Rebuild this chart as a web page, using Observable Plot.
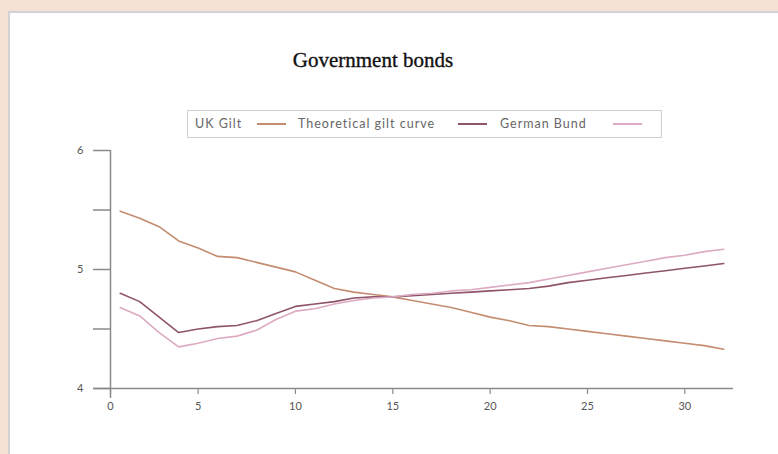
<!DOCTYPE html>
<html>
<head>
<meta charset="utf-8">
<script src="https://cdn.jsdelivr.net/npm/d3@7"></script>
<script src="https://cdn.jsdelivr.net/npm/@observablehq/plot@0.6"></script>
<style>
  html, body { margin: 0; padding: 0; }
  body { width: 778px; height: 454px; background: #f5e1d6; position: relative; overflow: hidden; }
  #panel { position: absolute; left: 8px; top: 11px; width: 770px; height: 443px; background: #fff;
           border-top: 2px solid #d2d2d2; border-left: 2px solid #d2d2d2; box-sizing: border-box; }
  #title { position: absolute; left: 0; width: 746px; top: 48px; text-align: center;
           font-family: "Liberation Serif", serif; font-size: 21px; color: #111; -webkit-text-stroke: 0.35px #111; }
  #legend { position: absolute; left: 187px; top: 110px; width: 475px; height: 28px; box-sizing: border-box;
            border: 1px solid #cfcfcf; font-family: Lato, sans-serif; font-size: 12.5px; color: #666; letter-spacing: 1px; }
  #legend span.t { position: absolute; top: 5px; white-space: nowrap; }
  #legend span.s { position: absolute; top: 12px; height: 2px; width: 29px; }
  #chart { position: absolute; left: 0; top: 140px; }
</style>
</head>
<body>
<div id="panel"></div>
<div id="title">Government bonds</div>
<div id="legend"></div>
<div id="chart"></div>
<script>
// Data
const maturity = [1,2,3,4,5,6,7,8,9,10,11,12,13,14,15,16,17,18,19,20,21,22,23,24,25,26,27,28,29,30,31,32];
const ukGilt = [5.49,5.43,5.36,5.24,5.18,5.11,5.10,5.06,5.02,4.98,4.91,4.84,4.81,4.79,4.77,4.74,4.71,4.68,4.64,4.60,4.57,4.53,4.52,4.50,4.48,4.46,4.44,4.42,4.40,4.38,4.36,4.33];
const theoreticalGilt = [4.80,4.73,4.60,4.47,4.50,4.52,4.53,4.57,4.63,4.69,4.71,4.73,4.76,4.77,4.77,4.78,4.79,4.80,4.81,4.82,4.83,4.84,4.86,4.89,4.91,4.93,4.95,4.97,4.99,5.01,5.03,5.05];
const germanBund = [4.68,4.61,4.47,4.35,4.38,4.42,4.44,4.49,4.58,4.65,4.67,4.71,4.74,4.76,4.77,4.79,4.80,4.82,4.83,4.85,4.87,4.89,4.92,4.95,4.98,5.01,5.04,5.07,5.10,5.12,5.15,5.17];

const seriesNames = ["UK Gilt", "Theoretical gilt curve", "German Bund"];
const seriesColors = ["#c48c70", "#8e5468", "#dcaac2"];

const xTickValues = [0.5, 5, 10, 15, 20, 25, 30];
const xTickLabels = ["0", "5", "10", "15", "20", "25", "30"];
const yTickValues = [4, 4.5, 5, 5.5, 6];
const yTickLabels = ["4", "", "5", "", "6"];

const seriesValues = [ukGilt, theoreticalGilt, germanBund];
const rows = [];
seriesNames.forEach((name, i) => {
  maturity.forEach((m, j) => rows.push({series: name, maturity: m, yield: seriesValues[i][j]}));
});

// Legend
const legend = document.getElementById("legend");
const legendText = [7, 110, 312];
const legendSwatch = [69, 270, 425];
seriesNames.forEach((name, i) => {
  const t = document.createElement("span");
  t.className = "t"; t.textContent = name; t.style.left = legendText[i] + "px";
  legend.appendChild(t);
  const s = document.createElement("span");
  s.className = "s"; s.style.left = legendSwatch[i] + "px"; s.style.background = seriesColors[i];
  legend.appendChild(s);
});

const axisColor = "#8a8a8a";
const chart = Plot.plot({
  width: 778,
  height: 314,
  marginLeft: 110,
  marginRight: 45,
  marginTop: 10,
  marginBottom: 66,
  style: { fontFamily: "Lato, sans-serif", fontSize: "11px", color: "#555", background: "transparent" },
  x: { domain: [0.5, 32.5] },
  y: { domain: [4, 6] },
  color: { domain: seriesNames, range: seriesColors },
  marks: [
    Plot.ruleX([0.5], { stroke: axisColor, strokeWidth: 1.5, insetBottom: -10 }),
    Plot.ruleY([4], { stroke: axisColor, strokeWidth: 1.5, insetLeft: -17 }),
    Plot.axisY({ ticks: yTickValues, tickSize: 17, tickPadding: 10, stroke: axisColor, strokeWidth: 1.5,
                 tickFormat: (d) => yTickLabels[yTickValues.indexOf(d)], label: null }),
    Plot.axisX({ ticks: xTickValues, tickSize: 6, tickPadding: 8, stroke: axisColor, strokeWidth: 1.2,
                 tickFormat: (d) => xTickLabels[xTickValues.indexOf(d)], label: null }),
    Plot.line(rows, { x: "maturity", y: "yield", z: "series", stroke: "series", strokeWidth: 1.6 })
  ]
});
document.getElementById("chart").appendChild(chart);
</script>
</body>
</html>
